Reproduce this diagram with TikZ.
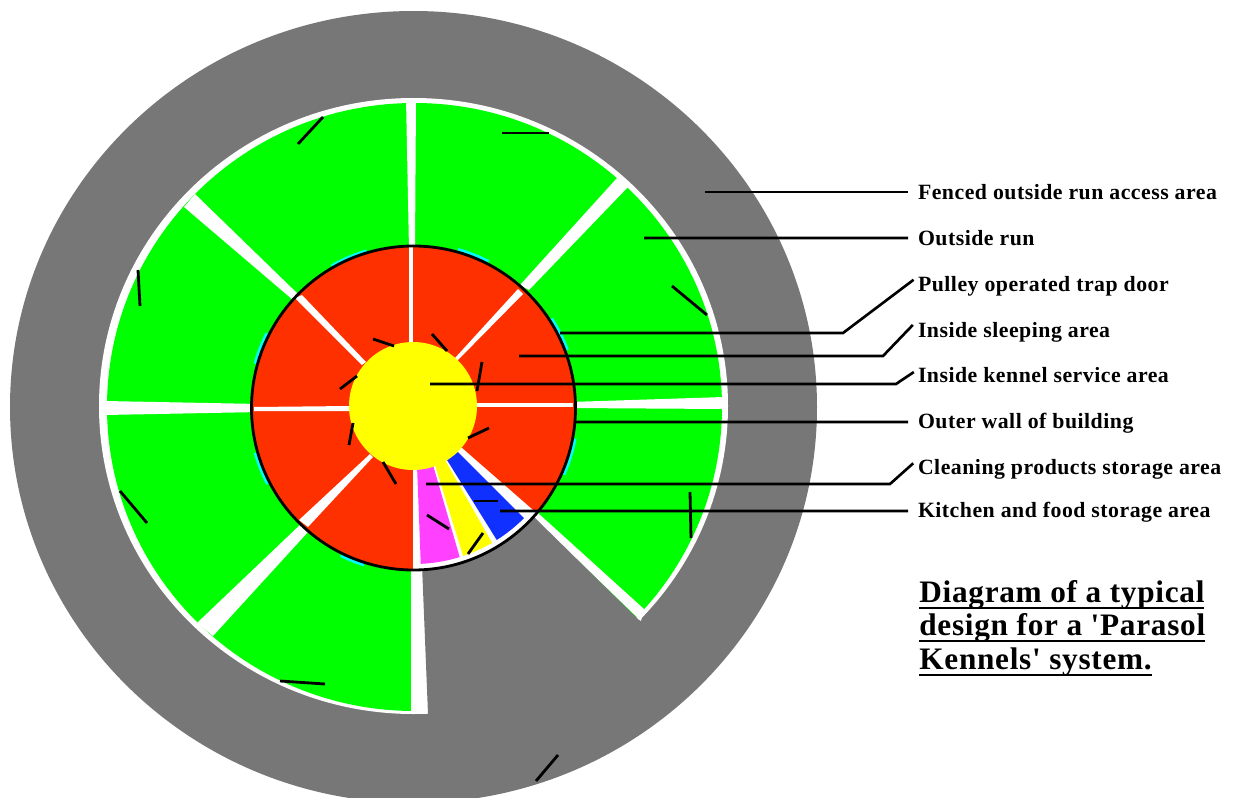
\documentclass[tikz,border=0pt]{standalone}
\usepackage{fontspec}
\newfontfamily\kennelfont[LetterSpace=2.3]{Liberation Serif}
\usetikzlibrary{positioning}
\definecolor{KennelGray}{HTML}{777777}
\definecolor{KennelGreen}{HTML}{00FF00}
\definecolor{KennelRed}{HTML}{FF3000}
\definecolor{KennelYellow}{HTML}{FFFF00}
\definecolor{KennelPink}{HTML}{FF40FF}
\definecolor{KennelBlue}{HTML}{1030FF}
\definecolor{KennelCyan}{HTML}{00FFFF}
\newcommand{\headline}[1]{\setbox0=\hbox{#1}\rlap{\vrule width\wd0 height-2.6pt depth3.8pt}\box0}

\begin{document}
\begin{tikzpicture}[x=0.02cm, y=-0.02cm, node distance=0.92cm and 0.92cm,
        gap/.style={fill=white},
        wall/.style={draw=black, line width=1.6pt},
        glow/.style={draw=KennelCyan, line width=1.7pt},
        door/.style={draw=black, line width=1.6pt},
        leader/.style={draw=black, line width=1.5pt},
        bent/.style={leader, shorten >=-4pt},
        area/.style={anchor=west, inner sep=0pt, outer sep=0.2cm, text height=9pt, text depth=1pt, font=\kennelfont\fontsize{12.4}{13}\bfseries},
        heading/.style={anchor=north west, align=left, inner sep=0pt, font=\kennelfont\fontsize{17.8}{19}\bfseries}]

        \clip (0,0) rectangle (1235,798);
        \fill[white] (0,0) rectangle (1235,798);

        \fill[KennelGray] (413.5,407) ellipse [x radius=403.5, y radius=396];
        \fill[white] (413.5,406) ellipse [x radius=314.5, y radius=308];
        \fill[KennelGreen] (414.5,407) ellipse [x radius=307.5, y radius=304];

        \fill[gap] (406,98) -- (416,98) -- (415,250) -- (409,250) -- cycle;
        \fill[gap] (617,178) -- (629,186) -- (529,290) -- (520,285) -- cycle;
        \fill[gap] (724,397) -- (724,409) -- (570,408) -- (570,402) -- cycle;
        \fill[gap] (184,207) -- (195,194) -- (300,296) -- (293,300) -- cycle;
        \fill[gap] (105,401) -- (105,415) -- (260,412) -- (260,404) -- cycle;
        \fill[gap] (197,623) -- (213,636) -- (308,532) -- (302,523) -- cycle;
        \fill[gap] (411,560) -- (411,712) -- (432,714) -- (432,560) -- cycle;
        \fill[gap] (533,517) -- (641,621) -- (644,609) -- (538,513) -- cycle;
        \fill[KennelGray] (421,540) -- (428,714) -- (470,770) -- (700,680) -- (535,518) -- cycle;

        \draw[glow] (331.4,266) arc [start angle=-120, end angle=-106.6, radius=164.5];
        \draw[glow] (458,249.5) arc [start angle=-74.3, end angle=-62.8, radius=164.5];
        \draw[glow] (551.5,318.4) arc [start angle=-33, end angle=-20.7, radius=164.5];
        \draw[glow] (575.1,438.6) arc [start angle=10.7, end angle=23.9, radius=164.5];
        \draw[glow] (340.8,555.6) arc [start angle=116.2, end angle=107.5, radius=164.5];
        \draw[glow] (255.2,452.8) arc [start angle=164.2, end angle=152.4, radius=164.5];
        \draw[glow] (267,333) arc [start angle=-152.9, end angle=-164.4, radius=164.5];

        \fill[KennelRed] (413.5,408) circle [radius=162];
        \begin{scope}
            \clip (413.5,408) circle [radius=162];
            \fill[gap] (413,440) -- (413,580) -- (560,580) -- (541,517) -- (462,448) -- cycle;
        \end{scope}
        \begin{scope}
            \clip (413.5,408) circle [radius=156];
            \fill[KennelPink] (417,465) -- (433,465) -- (462,565) -- (421,570) -- cycle;
            \fill[KennelYellow] (435,465) -- (445,460) -- (495,548) -- (465,562) -- cycle;
            \fill[KennelBlue] (447,460) -- (458,452) -- (527,521) -- (498,542) -- cycle;
        \end{scope}

        \fill[gap] (408.5,246) -- (413,246) -- (413,345) -- (408.5,345) -- cycle;
        \fill[gap] (518,289) -- (523,294) -- (457,361) -- (455,358) -- cycle;
        \fill[gap] (477,403) -- (573,403) -- (573,407) -- (477,407) -- cycle;
        \fill[gap] (299,520) -- (308,527) -- (373,457) -- (370,454) -- cycle;
        \fill[gap] (254,407) -- (350,406) -- (350,411) -- (254,411) -- cycle;
        \fill[gap] (295,298) -- (302,295) -- (366,362) -- (362,365) -- cycle;

        \fill[KennelYellow] (413,406) circle [radius=64];
        \draw[wall] (413.5,408) circle [radius=162];

        \draw[door] (298,144) -- (323,117);
        \draw[door] (502,133) -- (549,133);
        \draw[door] (672,286) -- (707,315);
        \draw[door] (138,270) -- (140,306);
        \draw[door] (120,491) -- (147,523);
        \draw[door] (280,681) -- (325,684);
        \draw[door] (690,492) -- (691,538);
        \draw[door] (536,781) -- (558,755);
        \draw[door] (373,339) -- (394,346);
        \draw[door] (432,334) -- (447,351);
        \draw[door] (482,362) -- (477,391);
        \draw[door] (489,428) -- (468,438);
        \draw[door] (383,462) -- (396,484);
        \draw[door] (353,423) -- (349,445);
        \draw[door] (357,376) -- (340,389);
        \draw[door] (427,515) -- (449,529);
        \draw[door] (483,533) -- (468,554);
        \draw[door] (474,501) -- (498,501);

        \node[area] (fenced) at (908,192) {Fenced outside run access area};
        \node[area, below=of fenced.west, anchor=west] (run) {Outside run};
        \node[area, below=of run.west, anchor=west] (pulley) {Pulley operated trap door};
        \node[area, below=of pulley.west, anchor=west] (sleeping) {Inside sleeping area};
        \node[area, below=of sleeping.west, anchor=west] (service) {Inside kennel service area};
        \node[area, below=of service.west, anchor=west] (outer) {Outer wall of building};
        \node[area, below=of outer.west, anchor=west] (cleaning) {Cleaning products storage area};
        \node[area, below=0.86cm of cleaning.west, anchor=west] (kitchen) {Kitchen and food storage area};
        \node[heading] (title) at (919,580) {\headline{Diagram of a typical}\\ \headline{design for a 'Parasol}\\ \headline{Kennels' system.}};

        \coordinate (fencedEnd) at (705,192);
        \coordinate (runEnd) at (644,238);
        \coordinate (pulleyEnd) at (560,333);
        \coordinate (sleepingEnd) at (519,356);
        \coordinate (serviceEnd) at (430,384);
        \coordinate (outerEnd) at (575,422);
        \coordinate (cleaningEnd) at (426,484);
        \coordinate (kitchenEnd) at (500,511);

        \draw[leader] (fencedEnd) -- (fenced.west);
        \draw[leader] (runEnd) -- (run.west);
        \draw[bent] (pulleyEnd) -- (843,333) -- (pulley.west);
        \draw[bent] (sleepingEnd) -- (883,356) -- (sleeping.west);
        \draw[bent] (serviceEnd) -- (896,384) -- (service.west);
        \draw[leader] (outerEnd) -- (outer.west);
        \draw[bent] (cleaningEnd) -- (890,484) -- (cleaning.west);
        \draw[leader] (kitchenEnd) -- (kitchen.west);
    \end{tikzpicture}
\end{document}
